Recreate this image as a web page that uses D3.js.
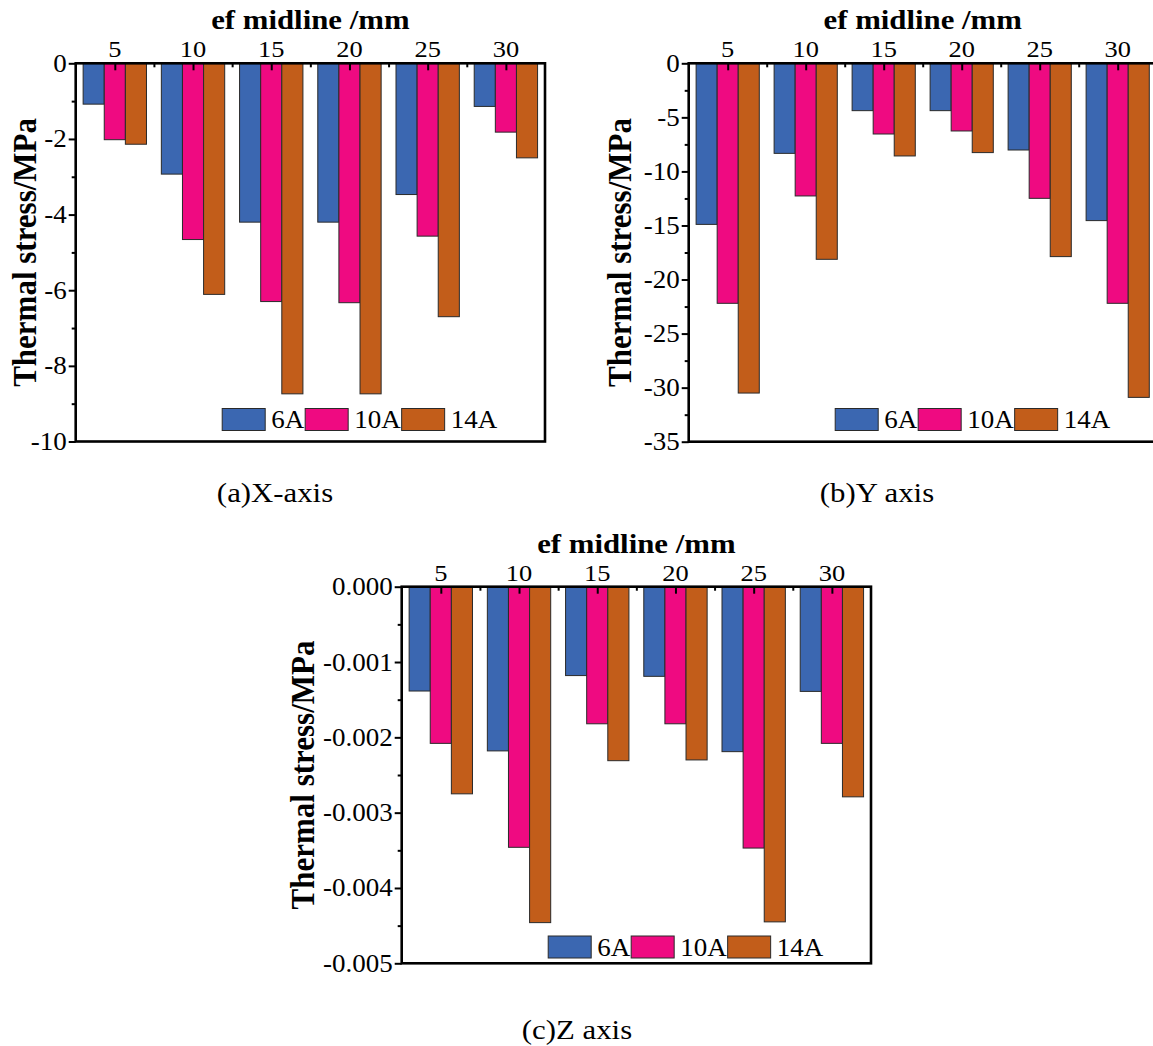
<!DOCTYPE html>
<html>
<head>
<meta charset="utf-8">
<script src="https://cdn.jsdelivr.net/npm/d3@7"></script>
<style>
  body { margin: 0; background: #fff; }
  svg { display: block; }
</style>
</head>
<body>
<svg id="fig" width="1153" height="1046"></svg>
<script>
// ---- data ----
const categories = [5, 10, 15, 20, 25, 30];            // ef midline position, mm
const seriesNames = ["6A", "10A", "14A"];
const seriesColors = ["#3b67b1", "#ef0a81", "#c25d1a"];

// X-direction thermal stress (MPa)
const xStress6A  = [-1.08, -2.93, -4.20, -4.20, -3.47, -1.14];
const xStress10A = [-2.02, -4.66, -6.30, -6.33, -4.57, -1.82];
const xStress14A = [-2.14, -6.11, -8.74, -8.74, -6.70, -2.50];

// Y-direction thermal stress (MPa)
const yStress6A  = [-14.90, -8.33, -4.38, -4.38, -8.02, -14.55];
const yStress10A = [-22.20, -12.27, -6.54, -6.26, -12.49, -22.20];
const yStress14A = [-30.50, -18.13, -8.57, -8.26, -17.88, -30.90];

// Z-direction thermal stress (MPa)
const zStress6A  = [-0.001385, -0.00218, -0.00118, -0.00119, -0.00219, -0.00139];
const zStress10A = [-0.00208, -0.00346, -0.00182, -0.00182, -0.00347, -0.00208];
const zStress14A = [-0.00275, -0.00446, -0.00231, -0.00230, -0.00445, -0.00279];

// axis ticks
const xMajorTicks = [0, -2, -4, -6, -8, -10];
const xMinorTicks = [-1, -3, -5, -7, -9];
const yMajorTicks = [0, -5, -10, -15, -20, -25, -30, -35];
const yMinorTicks = [-2.5, -7.5, -12.5, -17.5, -22.5, -27.5, -32.5];
const zMajorTicks = [0, -0.001, -0.002, -0.003, -0.004, -0.005];
const zMinorTicks = [-0.0005, -0.0015, -0.0025, -0.0035, -0.0045];
const categoryBoundaries = [7.5, 12.5, 17.5, 22.5, 27.5];

const xAxisTitle = "ef midline /mm";
const yAxisTitle = "Thermal stress/MPa";

// ---- drawing ----
const SERIF = "'Liberation Serif', 'Times New Roman', Times, serif";
const SX = 1.08;   // slight horizontal widening of the lettering
const svg = d3.select("#fig");

function hText(g, x, y, str, size, anchor, weight, sx) {
  const k = sx || SX;
  return g.append("text")
    .attr("transform", `translate(${x},${y}) scale(${k},1)`)
    .attr("font-family", SERIF)
    .attr("font-size", size)
    .attr("font-weight", weight || "normal")
    .attr("text-anchor", anchor || "start")
    .attr("fill", "#000")
    .text(str);
}

function drawPanel(p) {
  const g = svg.append("g");
  const x = d3.scaleLinear().domain([2.5, 32.5]).range([p.left, p.right]);
  const y = d3.scaleLinear().domain([0, p.min]).range([p.top, p.bottom]);
  const step = x(10) - x(5);
  const groupW = step * 0.81;
  const inner = d3.scaleBand().domain(seriesNames).range([-groupW / 2, groupW / 2]).padding(0);

  // bars
  p.series.forEach((vals, si) => {
    g.append("g").selectAll("rect")
      .data(categories.map((c, i) => ({ c, v: vals[i] })))
      .join("rect")
      .attr("x", d => x(d.c) + inner(seriesNames[si]))
      .attr("y", y(0))
      .attr("width", inner.bandwidth())
      .attr("height", d => y(d.v) - y(0))
      .attr("fill", seriesColors[si])
      .attr("stroke", "#2a2a2a")
      .attr("stroke-width", 1);
  });

  // left axis: major + minor ticks pointing outward
  const leftMajor = d3.axisLeft(y).tickValues(p.major).tickSizeInner(7).tickSizeOuter(0).tickFormat("");
  const leftMinor = d3.axisLeft(y).tickValues(p.minor).tickSizeInner(4).tickSizeOuter(0).tickFormat("");
  [leftMajor, leftMinor].forEach(ax => {
    const a = g.append("g").attr("transform", `translate(${p.left},0)`).call(ax);
    a.select(".domain").remove();
    a.selectAll("line").attr("stroke", "#000").attr("stroke-width", 2);
  });
  p.major.forEach(v => hText(g, p.left - 9, y(v) + 8.5, p.fmt(v), 25, "end"));

  // top axis: ticks pointing into the plot
  const topMajor = d3.axisTop(x).tickValues(categories).tickSizeInner(-7).tickSizeOuter(0).tickFormat("");
  const topMinor = d3.axisTop(x).tickValues(categoryBoundaries).tickSizeInner(-4).tickSizeOuter(0).tickFormat("");
  [topMajor, topMinor].forEach(ax => {
    const a = g.append("g").attr("transform", `translate(0,${p.top})`).call(ax);
    a.select(".domain").remove();
    a.selectAll("line").attr("stroke", "#000").attr("stroke-width", 2);
  });
  categories.forEach(c => hText(g, x(c), p.top - 6, String(c), 23, "middle", "normal", 1.15));

  // frame
  g.append("rect")
    .attr("x", p.left).attr("y", p.top)
    .attr("width", p.right - p.left).attr("height", p.bottom - p.top)
    .attr("fill", "none").attr("stroke", "#000").attr("stroke-width", 2.6);

  // axis titles
  hText(g, (p.left + p.right) / 2, p.top - 34, xAxisTitle, 28, "middle", "bold", 1.1);
  g.append("text")
    .attr("transform", `translate(${p.left - p.yTitleOffset},${(p.top + p.bottom) / 2}) rotate(-90) scale(1,1.12)`)
    .attr("font-family", SERIF).attr("font-size", 31).attr("font-weight", "bold")
    .attr("text-anchor", "middle").attr("fill", "#000")
    .text(yAxisTitle);

  // legend
  let lx = p.left + 146.5;
  const ly = p.legendTop;
  seriesNames.forEach((name, i) => {
    g.append("rect")
      .attr("x", lx).attr("y", ly).attr("width", 43).attr("height", 22)
      .attr("fill", seriesColors[i]).attr("stroke", "#2a2a2a").attr("stroke-width", 1);
    const t = hText(g, lx + 49, ly + 19.5, name, 25, "start");
    lx += 49 + t.node().getComputedTextLength() * SX + 1;
  });

  // caption
  hText(svg, p.capX, p.capY, p.caption, 28, "middle", "normal", 1.1);
}

const fmtInt = v => String(v);
const fmt3 = v => v.toFixed(3);

drawPanel({
  left: 75.7, right: 545, top: 63.3, bottom: 441.5, min: -10,
  major: xMajorTicks, minor: xMinorTicks, fmt: fmtInt,
  series: [xStress6A, xStress10A, xStress14A],
  yTitleOffset: 40, legendTop: 408.5,
  caption: "(a)X-axis", capX: 275, capY: 502
});
drawPanel({
  left: 688.7, right: 1156.7, top: 63.3, bottom: 441.7, min: -35,
  major: yMajorTicks, minor: yMinorTicks, fmt: fmtInt,
  series: [yStress6A, yStress10A, yStress14A],
  yTitleOffset: 57.5, legendTop: 408.5,
  caption: "(b)Y axis", capX: 877, capY: 502
});
drawPanel({
  left: 401.7, right: 871, top: 586.7, bottom: 963.3, min: -0.005,
  major: zMajorTicks, minor: zMinorTicks, fmt: fmt3,
  series: [zStress6A, zStress10A, zStress14A],
  yTitleOffset: 88, legendTop: 936,
  caption: "(c)Z axis", capX: 577, capY: 1039
});
</script>
</body>
</html>
